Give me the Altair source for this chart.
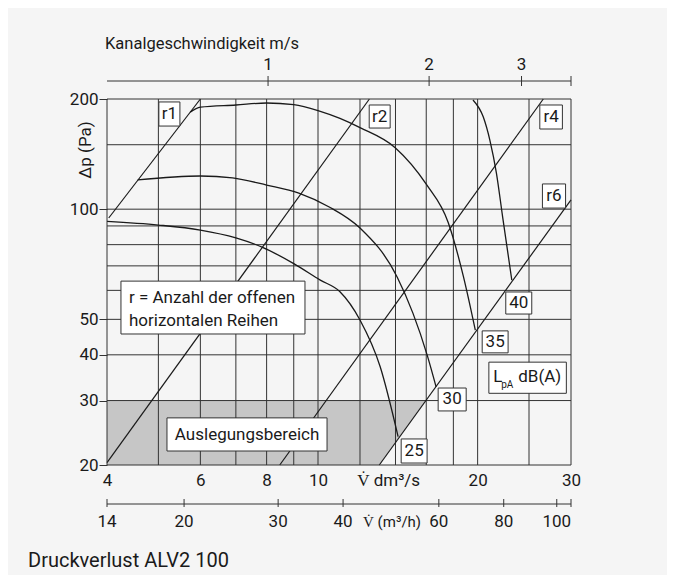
import altair as alt
import pandas as pd

W, H = 464, 366
FONT = "Roboto"
INK = "#1a1a1a"

# ---- grid / axis values ----
x_grid = [5, 6, 7, 8, 9, 10, 12, 14, 16, 18, 20, 25]
y_grid = [30, 40, 50, 60, 70, 80, 90, 100, 150]

x_tick_vals = [4, 6, 8, 10, 13.56, 20, 30]
x_tick_text = ["4", "6", "8", "10", "V\u0307 dm\u00b3/s", "20", "30"]
y_tick_vals = [20, 30, 40, 50, 100, 200]

vel_text = ["1", "2", "3"]
vel_pos = [8.05, 16.2, 24.2]          # dm³/s position of the m/s ticks
m3h_text = ["14", "20", "30", "40", "60", "80", "100"]
m3h_pos = [4.0, 5.59, 8.41, 11.15, 16.9, 22.4, 28.2]
axis_end = 30

# ---- sound level curves (dB(A)) ----
c25_x = [4.0, 5.0, 6.0, 7.0, 7.84, 9.0, 10.1, 11.0, 12.0, 13.1, 14.16]
c25_y = [92.6, 90.5, 87.7, 83.5, 78.8, 71.0, 64.0, 59.5, 49.8, 37.1, 23.9]
c30_x = [4.57, 6.0, 6.9, 8.0, 9.2, 10.5, 12.0, 14.1, 15.1, 16.06, 16.7]
c30_y = [120.2, 123.2, 121.7, 116.4, 110.7, 101.4, 88.8, 65.3, 52.0, 40.0, 32.7]
c35_x = [5.74, 6.0, 7.0, 8.0, 9.0, 10.0, 11.0, 12.0, 14.0, 16.0, 17.6, 18.8, 19.8]
c35_y = [184, 190, 192.6, 195, 193, 186, 177, 167, 147, 117, 92, 65.5, 46.7]
c40_x = [19.6, 20.5, 21.1, 21.7, 22.3, 23.2]
c40_y = [198.8, 178.5, 154, 125.5, 95, 64]

# ---- resistance lines r (open rows) ----
r_names = ["r1", "r2", "r4", "r6"]
r_x0 = [4.03, 4.0, 8.47, 13.05]
r_y0 = [94.6, 20.3, 20.0, 20.0]
r_x1 = [6.0, 12.5, 26.6, 30.0]
r_y1 = [200, 200, 200, 106]

# ---- design range (Auslegungsbereich) ----
area_x = [4.0, 13.05, 15.98]
area_top = [30, 30, 30]
area_bot = [20, 20, 30]

# ---- labelled boxes ----
box_text = ["r1", "r2", "r4", "r6", "25", "30", "35", "40"]
box_x1 = [5.01, 12.49, 26.2, 26.5, 14.35, 16.85, 20.4, 22.6]
box_x2 = [5.49, 13.68, 28.9, 29.3, 16.06, 19.03, 22.83, 25.3]
box_y1 = [168.7, 166.6, 165.6, 100.7, 20.25, 28.1, 40.5, 51.7]
box_y2 = [196.3, 192.6, 192.6, 117.2, 23.56, 32.46, 46.5, 59.4]

note_box = dict(x1=4.25, x2=9.45, y1=45.6, y2=63.6)
note_lines = ["r = Anzahl der offenen", "horizontalen Reihen"]
note_x = 4.40
note_y = [55.4, 47.95]

design_box = dict(x1=5.19, x2=10.40, y1=21.84, y2=26.9)
design_text = "Auslegungsbereich"
design_x, design_y = 7.35, 23.4

lpa_box = dict(x1=21.0, x2=29.4, y1=31.4, y2=38.2)
lpa_parts = ["L", "pA", "dB(A)"]
lpa_x = [21.4, 22.15, 23.86]
lpa_y = [33.7, 32.5, 33.7]
lpa_size = [17, 10, 17]

# ---------------------------------------------------------------
xs = alt.Scale(type="log", domain=[4, 30], nice=False)
ys = alt.Scale(type="log", domain=[20, 200], nice=False)


def label_expr(vals, texts):
    parts = [f"abs(datum.value - {v}) < 0.01 ? '{t}'" for v, t in zip(vals, texts)]
    return " : ".join(parts) + " : ''"


X_AXIS = alt.Axis(
    values=x_tick_vals, labelExpr=label_expr(x_tick_vals, x_tick_text),
    ticks=False, tickSize=0, domain=False, grid=False, labelPadding=7,
    labelFontSize=17, labelFont=FONT, labelColor=INK, labelOverlap=False,
    labelFlush=False, labelBound=False, title=None)
Y_AXIS = alt.Axis(
    values=y_tick_vals, format="d", tickSize=8, tickColor="#333", domain=False,
    grid=False, labelPadding=1, labelFontSize=17, labelFont=FONT, labelColor=INK,
    labelOverlap=False, labelFlush=False, labelBound=False, title=None)


def X(f):
    return alt.X(f, scale=xs, title=None)


def Y(f):
    return alt.Y(f, scale=ys, title=None)


curves = pd.concat([
    pd.DataFrame({"x": xx, "y": yy, "s": name, "o": range(len(xx))})
    for name, xx, yy in [("25", c25_x, c25_y), ("30", c30_x, c30_y),
                         ("35", c35_x, c35_y), ("40", c40_x, c40_y)]
])
rlines = pd.DataFrame({"x": r_x0 + r_x1, "y": r_y0 + r_y1, "s": r_names + r_names,
                       "o": [0] * 4 + [1] * 4})
area_df = pd.DataFrame({"x": area_x, "top": area_top, "bot": area_bot})
boxes = pd.DataFrame({"x1": box_x1, "x2": box_x2, "y1": box_y1, "y2": box_y2, "t": box_text})
boxes["tx"] = (boxes.x1 * boxes.x2) ** 0.5
boxes["ty"] = (boxes.y1 * boxes.y2) ** 0.5
big_boxes = pd.DataFrame([note_box, design_box, lpa_box])

area = alt.Chart(area_df).mark_area(color="#c6c6c6", opacity=1).encode(
    x=alt.X("x:Q", scale=xs, axis=X_AXIS),
    y=alt.Y("top:Q", scale=ys, axis=Y_AXIS),
    y2="bot:Q",
)

gx = alt.Chart(pd.DataFrame({"x": x_grid})).mark_rule(color="#333", strokeWidth=1).encode(x=X("x:Q"))
gy = alt.Chart(pd.DataFrame({"y": y_grid})).mark_rule(color="#333", strokeWidth=1).encode(y=Y("y:Q"))

curve_layer = alt.Chart(curves).mark_line(color=INK, strokeWidth=1.3, interpolate="monotone").encode(
    x=X("x:Q"), y=Y("y:Q"), detail="s:N", order="o:Q")
r_layer = alt.Chart(rlines).mark_line(color=INK, strokeWidth=1.2).encode(
    x=X("x:Q"), y=Y("y:Q"), detail="s:N", order="o:Q")

frame = alt.Chart(pd.DataFrame({"a": [0]})).mark_rect(fill=None, stroke="#333", strokeWidth=1).encode(
    x=alt.value(0), x2=alt.value(W), y=alt.value(0), y2=alt.value(H))

box_layer = alt.Chart(boxes).mark_rect(fill="white", stroke="#333", strokeWidth=1).encode(
    x=X("x1:Q"), x2="x2:Q", y=Y("y1:Q"), y2="y2:Q")
box_text_layer = alt.Chart(boxes).mark_text(font=FONT, fontSize=17, color=INK, baseline="middle").encode(
    x=X("tx:Q"), y=Y("ty:Q"), text="t:N")
big_box_layer = alt.Chart(big_boxes).mark_rect(fill="white", stroke="#333", strokeWidth=1).encode(
    x=X("x1:Q"), x2="x2:Q", y=Y("y1:Q"), y2="y2:Q")

note_text = alt.Chart(pd.DataFrame({"x": [note_x] * 2, "y": note_y, "t": note_lines})).mark_text(
    font=FONT, fontSize=17, color=INK, align="left", baseline="alphabetic").encode(
    x=X("x:Q"), y=Y("y:Q"), text="t:N")
design_label = alt.Chart(pd.DataFrame({"x": [design_x], "y": [design_y], "t": [design_text]})).mark_text(
    font=FONT, fontSize=17, color=INK, align="center", baseline="alphabetic").encode(
    x=X("x:Q"), y=Y("y:Q"), text="t:N")
lpa_label = alt.Chart(pd.DataFrame({"x": lpa_x, "y": lpa_y, "t": lpa_parts, "fs": lpa_size})).mark_text(
    font=FONT, color=INK, align="left", baseline="alphabetic").encode(
    x=X("x:Q"), y=Y("y:Q"), text="t:N",
    size=alt.Size("fs:Q", scale=None, legend=None))

# ---- top axis (Kanalgeschwindigkeit) ----
top_line = alt.Chart(pd.DataFrame({"x": [4], "x2": [axis_end]})).mark_rule(color="#333").encode(
    x=X("x:Q"), x2="x2:Q", y=alt.value(-18))
top_ticks = alt.Chart(pd.DataFrame({"x": vel_pos + [axis_end]})).mark_rule(color="#333").encode(
    x=X("x:Q"), y=alt.value(-23), y2=alt.value(-13))
top_labels = alt.Chart(pd.DataFrame({"x": vel_pos, "t": vel_text})).mark_text(
    font=FONT, fontSize=17, color=INK, baseline="alphabetic").encode(
    x=X("x:Q"), y=alt.value(-29), text="t:N")
top_title = alt.Chart(pd.DataFrame({"t": ["Kanalgeschwindigkeit m/s"]})).mark_text(
    font=FONT, fontSize=16.5, color=INK, align="left", baseline="alphabetic").encode(
    x=alt.value(-2), y=alt.value(-50), text="t:N")

# ---- second bottom axis (m³/h) ----
bot_line = alt.Chart(pd.DataFrame({"x": [4], "x2": [axis_end]})).mark_rule(color="#333").encode(
    x=X("x:Q"), x2="x2:Q", y=alt.value(H + 39))
bot_ticks = alt.Chart(pd.DataFrame({"x": m3h_pos + [axis_end]})).mark_rule(color="#333").encode(
    x=X("x:Q"), y=alt.value(H + 34), y2=alt.value(H + 42))
bot_labels = alt.Chart(pd.DataFrame({"x": m3h_pos, "t": m3h_text})).mark_text(
    font=FONT, fontSize=17, color=INK, baseline="alphabetic").encode(
    x=X("x:Q"), y=alt.value(H + 62), text="t:N")
bot_unit = alt.Chart(pd.DataFrame({"x": [12.16], "t": ["V\u0307 (m\u00b3/h)"]})).mark_text(
    font=FONT, fontSize=15, color=INK, align="left", baseline="alphabetic").encode(
    x=X("x:Q"), y=alt.value(H + 62), text="t:N")

y_title = alt.Chart(pd.DataFrame({"t": ["\u0394p (Pa)"]})).mark_text(
    font=FONT, fontSize=17, color=INK, angle=270, align="center", baseline="middle").encode(
    x=alt.value(-21), y=alt.value(51), text="t:N")
caption = alt.Chart(pd.DataFrame({"t": ["Druckverlust ALV2 100"]})).mark_text(
    font=FONT, fontSize=20, color=INK, align="left", baseline="alphabetic").encode(
    x=alt.value(-79), y=alt.value(468), text="t:N")

chart = alt.layer(
    area, gx, gy, curve_layer, r_layer, frame,
    box_layer, box_text_layer, big_box_layer, note_text, design_label, lpa_label,
    top_line, top_ticks, top_labels, top_title,
    bot_line, bot_ticks, bot_labels, bot_unit, y_title, caption,
).properties(
    width=W, height=H,
    autosize=alt.AutoSizeParams(type="none"),
    padding={"left": 99, "top": 91, "right": 96, "bottom": 110},
).configure(background="#f5f5f5", font=FONT).configure_view(stroke=None)

chart.save("out.html", embed_options={"renderer": "svg", "actions": False})
